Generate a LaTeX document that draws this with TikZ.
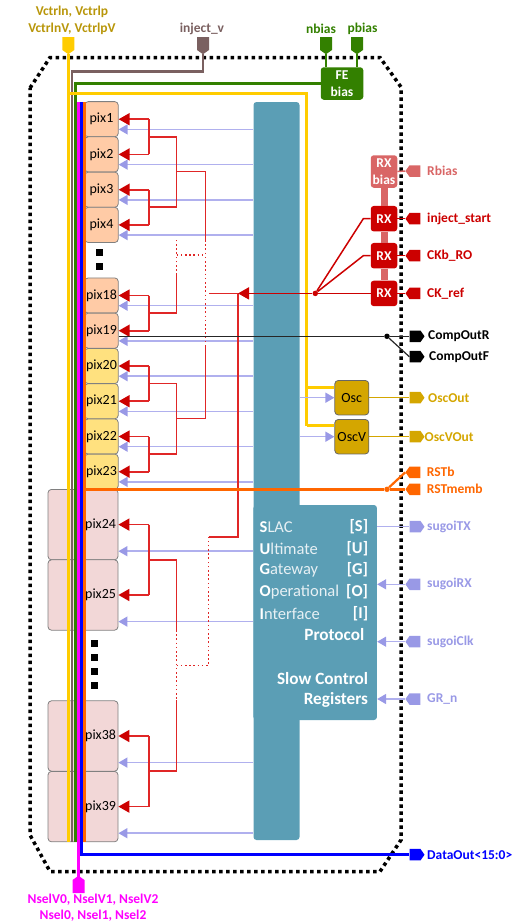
\documentclass[tikz,border=0pt]{standalone}
\usepackage{fontspec}
\setmainfont{Carlito}
\usetikzlibrary{arrows.meta,calc,shapes.symbols}

\definecolor{tealblk}{HTML}{5B9EB5}
\definecolor{salmonpix}{HTML}{FFCBA6}
\definecolor{yellowpix}{HTML}{FFE17F}
\definecolor{pinkpix}{HTML}{F2D7D7}
\definecolor{goldbus}{HTML}{FFCC00}
\definecolor{goldtxt}{HTML}{B8960A}
\definecolor{oscfill}{HTML}{D4A600}
\definecolor{brownbus}{HTML}{7A6060}
\definecolor{greenbus}{HTML}{338000}
\definecolor{sigred}{HTML}{CC0000}
\definecolor{redwire}{HTML}{E02626}
\definecolor{rxpale}{HTML}{D96666}
\definecolor{lavender}{HTML}{9999E6}
\definecolor{lavwire}{HTML}{B0B0EE}
\definecolor{orangebus}{HTML}{FF6600}
\definecolor{magentabus}{HTML}{FF00FF}

\tikzset{
  pixbox/.style={draw=black!50, line width=0.8pt, rounded corners=3.5pt, inner sep=0pt,
    font=\fontsize{14}{16}\selectfont},
  padnode/.style={signal, signal to=#1, signal pointer angle=110, draw=none, inner sep=0pt},
  padtext/.style={anchor=west, inner sep=0pt, font=\bfseries\fontsize{13.5}{15}\selectfont},
  toptext/.style={inner sep=0pt, font=\bfseries\fontsize{13.5}{15}\selectfont},
  rxbox/.style={rounded corners=3pt, fill=sigred, text=white, inner sep=0pt, align=center,
    minimum width=26.5pt, minimum height=25.5pt, font=\bfseries\fontsize{13.5}{16.5}\selectfont},
  oscbox/.style={draw=black!60, line width=0.8pt, rounded corners=3.5pt, fill=oscfill, inner sep=0pt,
    minimum width=34pt, minimum height=34.5pt, font=\fontsize{14}{16}\selectfont},
  tealbox/.style={fill=tealblk, rounded corners=3pt, inner sep=0pt},
  sugoitext/.style={text=white, inner sep=0pt, font=\fontsize{16.5}{18}\selectfont},
  sugoibold/.style={sugoitext, anchor=east, font=\bfseries\fontsize{17.2}{18}\selectfont},
  dotnode/.style={circle, inner sep=0pt, minimum size=5.5pt},
  redline/.style={redwire, line width=1.7pt},
  reddots/.style={redwire, line width=1.5pt, dash pattern=on 1.6pt off 2.6pt},
  redarrow/.style={redline, -{Triangle[length=11pt,width=12pt,color=sigred]}},
  bluearrow/.style={lavwire, line width=1.5pt, -{Triangle[length=9pt,width=10pt,color=lavender]}},
  blueline/.style={lavwire, line width=1.5pt},
  bussig/.style={line width=2.8pt},
}

\begin{document}
\begin{tikzpicture}[x=1pt, y=-1pt, >=stealth]
\useasboundingbox (0,0) rectangle (525,922);

% --- Chip outline ---
\draw[black, line width=3.5pt, dash pattern=on 3.5pt off 3.5pt]
  (30,88) -- (50,57.5) -- (380,57.5) -- (401,87) -- (401,840) -- (380,871.5) -- (50,871.5) -- (30,835) -- cycle;

% --- Central block ---
\node[tealbox, minimum width=46pt, minimum height=738pt] (regbar) at (276.5,471) {};
\node[tealbox, minimum width=123.5pt, minimum height=215pt] (slowctrl) at (315.2,612.5) {};

% --- Small pixels ---
\foreach \n/\yc/\col in {1/119.2/salmonpix, 2/154.4/salmonpix, 3/189.7/salmonpix, 4/224.9/salmonpix,
    18/295.5/salmonpix, 19/330.7/salmonpix, 20/366/yellowpix, 21/401.2/yellowpix,
    22/436.5/yellowpix, 23/471.7/yellowpix} {
  \node[pixbox, fill=\col, minimum width=33.5pt, minimum height=35.2pt] (pix\n) at (101.5,\yc) {pix\n};
  \coordinate (blu\n) at ([yshift=7.8pt]pix\n.south east);
}

% --- Large pixels ---
\foreach \n/\yc in {24/524.6, 25/595, 38/736, 39/806.6} {
  \node[pixbox, fill=pinkpix, minimum height=70.4pt, text width=66pt, inner xsep=2pt, align=right] (pix\n) at (83,\yc) {pix\n};
  \coordinate (blu\n) at ([yshift=9pt]pix\n.south east);
}

% --- Filler squares ---
\foreach \nm/\xx/\yy in {a/99/252, b/99/266, c/94.5/643, d/94.5/657, e/94.5/671, f/94.5/685} {
  \node[fill=black, inner sep=0pt, minimum size=7pt] (sq\nm) at (\xx,\yy) {};
}

% --- Readout arrows from the block ---
\foreach \n in {1,2,3,4,18,19,20,21,22,23,24,25,38,39} {
  \draw[bluearrow] (regbar.west |- blu\n) -- (blu\n);
}

% --- Brackets for pixel pairs ---
\foreach \a/\b in {1/2, 3/4, 18/19, 20/21, 22/23, 24/25, 38/39} {
  \coordinate (brk\a) at (149,0 |- pix\a);
  \coordinate (brk\b) at (149,0 |- pix\b);
  \coordinate (mid\a) at ($(brk\a)!.5!(brk\b)$);
  \draw[redline] (brk\a) -- (brk\b);
  \draw[redarrow] (brk\a) -- (pix\a.east);
  \draw[redarrow] (brk\b) -- (pix\b.east);
}

% --- Clock tree, upper half ---
\coordinate (treea) at (176.6,171.5);
\coordinate (treeb) at (176.6,418.5);
\coordinate (treec) at (205.6,171.5);
\coordinate (treed) at (205.6,240);
\coordinate (treee) at (205.6,345);
\coordinate (treef) at (205.6,418.5);
\draw[redline] (mid1) -| (treea) |- (mid3);
\draw[redline] (treea) -- (treec) -- (treed);
\draw[redline] (mid20) -| (treeb) |- (mid22);
\draw[redline] (treeb) -- (treef) -- (treee);
\draw[redline] (mid18) -| (176.6,275);
\draw[reddots] (treed) -- (treee);
\draw[reddots] (176.6,275) -- (176.6,240);
\draw[reddots] (176.6,255) -- (205.6,255);

% --- Clock tree, lower half ---
\coordinate (treeh) at (176.6,630);
\coordinate (treei) at (176.6,700);
\coordinate (treej) at (208.5,537);
\coordinate (treek) at (208.5,665.7);
\coordinate (treel) at (238,537);
\coordinate (treem) at (238,293.4);
\draw[redline] (mid24) -| (treeh);
\draw[redline] (mid38) -| (treei);
\draw[reddots] (treeh) -- (treei);
\draw[reddots] (176.6,665.7) -- (treek) -- (treej);
\draw[redline] (treej) -- (treel) -- (treem);
\draw[redline] (209,293.4) -- (treem);

% --- Buses ---
\coordinate (busg) at (75.3,83.5);
\coordinate (busb) at (72,71.5);
\coordinate (busm) at (78.4,102);
\coordinate (busd) at (81.7,102);
\coordinate (buso) at (84.7,102);
\coordinate (goldc) at (306.7,93.5);
\coordinate (goldd) at (306.7,425.7);
\coordinate (golde) at (306.7,387.7);

% --- Pads on top ---
\node[padnode=south, fill=goldbus, minimum width=12pt, minimum height=13pt] (padvctrl) at (68.3,43.5) {};
\node[padnode=south, fill=brownbus, minimum width=12pt, minimum height=13pt] (padinject) at (203,43.5) {};
\node[padnode=south, fill=greenbus, minimum width=12pt, minimum height=13pt] (padnbias) at (326,43.5) {};
\node[padnode=south, fill=greenbus, minimum width=12pt, minimum height=13pt] (padpbias) at (357,43.5) {};
\node[toptext, text=goldtxt] (labvctrla) at (72,12) {Vctrln, Vctrlp};
\node[toptext, text=goldtxt] (labvctrlb) at (72,29) {VctrlnV, VctrlpV};
\node[toptext, text=brownbus] (labinject) at (202,29) {inject\_v};
\node[toptext, text=greenbus] (labnbias) at (321,29) {nbias};
\node[toptext, text=greenbus] (labpbias) at (362.5,29) {pbias};

% --- FE bias ---
\node[rxbox, fill=greenbus, minimum width=42.5pt, minimum height=32.5pt] (febias) at (342,83.5) {FE\\bias};
\draw[greenbus, line width=2.2pt] (padnbias.south) -- (padnbias.south |- febias.north);
\draw[greenbus, line width=2.2pt] (padpbias.south) -- (padpbias.south |- febias.north);

\draw[brownbus, bussig] (padinject.south) |- (busb) -- (busb |- pix39.south);
\draw[greenbus, bussig] (febias.west) -- (busg) -- (busg |- pix39.south);
\draw[magentabus, bussig] (busm) -- (78.4,882);
\draw[blue, bussig] (busd) -- (81.7,854.7) -- (409,854.7);
\draw[orangebus, bussig] (buso) -- (buso |- pix39.south);
\draw[goldbus, bussig] (padvctrl.south) -- (padvctrl.south |- pix39.south);
\draw[goldbus, bussig] (padvctrl.south |- goldc) -- (goldc) -- (goldd);

% --- Oscillators ---
\node[oscbox] (osc) at (351.8,397.7) {Osc};
\node[oscbox] (oscv) at (351.8,436.7) {OscV};
\draw[goldbus, bussig] (golde) -- (osc.west |- golde);
\draw[goldbus, bussig] (goldd) -- (oscv.west |- goldd);
\draw[bluearrow] (regbar.east |- osc) -- (osc.west);
\draw[bluearrow] (regbar.east |- oscv) -- (oscv.west);

% --- Pads on the right ---
\foreach \nm/\yy/\dir/\col/\xl/\lab in {
    rbias/171/west/rxpale/427/Rbias,
    inject/218.7/west/sigred/427/inject\_start,
    ckb/255.7/west/sigred/427/CKb\_RO,
    ckref/293.4/west/sigred/427/CK\_ref,
    compr/336.3/east/black/428/CompOutR,
    compf/356.7/east/black/429/CompOutF,
    oscout/397.7/east/oscfill/428/OscOut,
    oscvout/436.7/east/oscfill/424.5/OscVOut,
    rstb/472.3/west/orangebus/426.7/RSTb,
    rstm/489.3/west/orangebus/426.7/RSTmemb,
    txd/526.7/east/lavender/427/sugoiTX,
    rxd/584.3/west/lavender/427/sugoiRX,
    clk/641.7/west/lavender/427/sugoiClk,
    grn/699/west/lavender/427/GR\_n,
    data/854.7/east/blue/427/DataOut<15:0>} {
  \node[padnode=\dir, fill=\col, minimum width=15pt, minimum height=11.5pt] (pad\nm) at (415,\yy) {};
  \node[padtext, text=\col] (lab\nm) at (\xl,\yy) {\lab};
}

% --- Receivers ---
\node[rxbox, fill=rxpale, minimum height=32.5pt] (rxbias) at (384,171.5) {RX\\bias};
\foreach \nm in {inject, ckb, ckref} {
  \node[rxbox] (rx\nm) at (384,0 |- pad\nm) {RX};
  \draw[sigred, line width=1.5pt] (rx\nm.east) -- (pad\nm.west);
}
\draw[rxpale, line width=7pt] (rxbias.south) -- (rxinject.north);
\draw[rxpale, line width=7pt] (rxinject.south) -- (rxckb.north);
\draw[rxpale, line width=7pt] (rxckb.south) -- (rxckref.north);
\draw[rxpale, line width=1.5pt] (rxbias.east) -- (padrbias.west);

% --- Clock from receivers ---
\node[dotnode, fill=sigred] (rxdot) at (315.3,293.4) {};
\coordinate (rxa) at (363.3,218.7);
\coordinate (rxb) at (363.3,255.7);
\draw[sigred, line width=1.5pt] (rxdot) -- (rxa) -- (rxinject.west);
\draw[sigred, line width=1.5pt] (rxdot) -- (rxb) -- (rxckb.west);
\draw[sigred, line width=1.5pt] (rxdot) -- (rxckref.west);
\draw[redarrow, sigred] (rxdot) -- (treem);

% --- Comparator outputs ---
\node[dotnode, fill=black] (compdot) at (387,336.3) {};
\draw[black!85, line width=1.2pt] (pix19.east |- compdot) -- (compdot) -- (padcompr.west);
\draw[black!85, line width=1.2pt] (compdot) -- (padcompf.west);

% --- Oscillator outputs ---
\draw[oscfill, line width=1.5pt] (osc.east) -- (padoscout.west);
\draw[oscfill, line width=1.5pt] (oscv.east) -- (padoscvout.west);

% --- Reset ---
\node[dotnode, fill=orangebus] (rstdot) at (387,489.3) {};
\draw[orangebus, bussig] (buso |- rstdot) -- (rstdot) -- (padrstm.west);
\draw[orangebus, line width=2.2pt] (rstdot) -- (padrstb.west);

% --- Serial port ---
\draw[blueline] (slowctrl.east |- padtxd) -- (padtxd.west);
\draw[bluearrow] (padrxd.west) -- (slowctrl.east |- padrxd);
\draw[bluearrow] (padclk.west) -- (slowctrl.east |- padclk);
\draw[bluearrow] (padgrn.west) -- (slowctrl.east |- padgrn);

% --- Text in the block ---
\foreach \nm/\yy/\first/\rest/\tag in {s/527/S/LAC/S, u/548.5/U/ltimate/U, g/570/G/ateway/G,
    o/592/O/perational/O, i/613.5/I/nterface/I} {
  \node[sugoitext, anchor=west] (name\nm) at (259.5,\yy) {\textbf{\first}\textcolor{white!85!tealblk}{\rest}};
  \node[sugoitext, anchor=east] (tag\nm) at (368.3,\yy) {\textbf{[\tag]}};
}
\node[sugoibold] (protocol) at (364.5,635) {Protocol};
\node[sugoibold] (slowname) at (368.3,678.7) {Slow Control};
\node[sugoibold] (regname) at (368.3,700) {Registers};

% --- Select pad at the bottom ---
\node[padnode=north, fill=magentabus, minimum width=12pt, minimum height=13pt] (padnsel) at (78.5,886.5) {};
\node[toptext, text=magentabus] (labnsela) at (93,900) {NselV0, NselV1, NselV2};
\node[toptext, text=magentabus] (labnselb) at (93,916) {Nsel0, Nsel1, Nsel2};

\end{tikzpicture}
\end{document}
